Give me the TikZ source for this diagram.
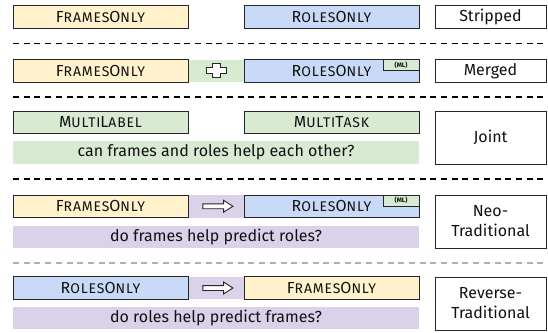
\documentclass[tikz,border=0pt]{standalone}
\usepackage{fontspec}
\setmainfont{Fira Sans}
\usetikzlibrary{shapes.arrows}
\definecolor{cyellow}{HTML}{FFF2CC}
\definecolor{cblue}{HTML}{C9DAF8}
\definecolor{cgreen}{HTML}{D9EAD3}
\definecolor{cpurple}{HTML}{D9D2E9}
\definecolor{cborder}{HTML}{262626}
\definecolor{ctext}{HTML}{111111}
\definecolor{cgraysep}{HTML}{B0B0B0}
\newcommand\mysc[1]{{\fontsize{14}{16}\selectfont #1}}
\newcommand\FramesOnly{F\mysc{RAMES}O\mysc{NLY}}
\newcommand\RolesOnly{R\mysc{OLES}O\mysc{NLY}}
\newcommand\MultiLabel{M\mysc{ULTI}L\mysc{ABEL}}
\newcommand\MultiTask{M\mysc{ULTI}T\mysc{ASK}}
\tikzset{
  base/.style={draw=cborder, line width=0.9pt, inner sep=0pt, text=ctext,
    font=\fontsize{16}{20}\selectfont},
  method/.style={base, minimum width=175pt, minimum height=22.5pt,
    font=\fontsize{16}{20}\selectfont\addfontfeature{LetterSpace=6}},
  framesbox/.style={method, fill=cyellow},
  rolesbox/.style={method, fill=cblue},
  jointbox/.style={method, fill=cgreen},
  settingbox/.style={base, fill=white, minimum width=111pt, align=center},
  band/.style={inner sep=0pt, minimum height=22.5pt, text=ctext,
    font=\fontsize{16}{20}\selectfont},
  sepline/.style={dash pattern=on 6pt off 4.7pt, line width=1.3pt, draw=black},
  badge/.style={draw=cborder, line width=0.8pt, fill=cgreen, minimum width=36pt,
    minimum height=11pt, inner sep=0pt, text=ctext,
    font=\bfseries\fontsize{6.5}{7}\selectfont},
  fatarrow/.style={single arrow, draw=cborder, fill=white, line width=0.9pt,
    inner sep=2pt, minimum height=30pt, single arrow head extend=3.5pt,
    single arrow tip angle=65},
  crossmark/.style={draw=cborder, fill=white, line width=0.9pt},
}
\begin{document}
\begin{tikzpicture}[x=1pt,y=-1pt]
\useasboundingbox (0,0) rectangle (548,332);
% ---------- Row 1: Stripped
\node[framesbox] (f1) at (100.5,17) {\FramesOnly};
\node[rolesbox] (r1) at (331.5,17) {\RolesOnly};
\node[settingbox, minimum height=22.5pt] (s1) at (490.5,17) {Stripped};
\draw[sepline] (13,43.5) -- (547,43.5);
% ---------- Row 2: Merged
\node[band, fill=cgreen, minimum width=56pt] (g2) at (216,70.75) {};
\node[framesbox] (f2) at (100.5,70.75) {\FramesOnly};
\node[rolesbox] (r2) at (331.5,70.75) {\RolesOnly};
\node[badge, anchor=north east] (m2) at (r2.north east) {(ML)};
\draw[crossmark, shift={(g2.center)}]
  (-4,-7) -- (4,-7) -- (4,-3) -- (10,-3) -- (10,3) -- (4,3) -- (4,7)
  -- (-4,7) -- (-4,3) -- (-10,3) -- (-10,-3) -- (-4,-3) -- cycle;
\node[settingbox, minimum height=22.5pt] (s2) at (490.5,70.75) {Merged};
\draw[sepline] (13,97) -- (547,97);
% ---------- Row 3: Joint
\node[jointbox] (ml3) at (100.5,122.5) {\MultiLabel};
\node[jointbox] (mt3) at (331.5,122.5) {\MultiTask};
\node[band, fill=cgreen, minimum width=406pt] (q3) at (216,152.5) {can frames and roles help each other?};
\node[settingbox, minimum height=53.5pt] (s3) at (490.5,137.75) {Joint};
\draw[sepline] (13,179) -- (547,179);
% ---------- Row 4: Neo-Traditional
\node[band, fill=cpurple, minimum width=56pt] (p4) at (216,206.25) {};
\node[framesbox] (f4) at (100.5,206.25) {\FramesOnly};
\node[rolesbox] (r4) at (331.5,206.25) {\RolesOnly};
\node[badge, anchor=north east] (m4) at (r4.north east) {(ML)};
\node[fatarrow] (a4) at (p4.center) {};
\node[band, fill=cpurple, minimum width=406pt] (q4) at (216,237) {do frames help predict roles?};
\node[settingbox, minimum height=53pt] (s4) at (490.5,221.5) {Neo-\\Traditional};
\draw[sepline, draw=cgraysep] (13,263) -- (547,263);
% ---------- Row 5: Reverse-Traditional
\node[band, fill=cpurple, minimum width=56pt] (p5) at (216,288) {};
\node[rolesbox] (r5) at (100.5,288) {\RolesOnly};
\node[framesbox] (f5) at (331.5,288) {\FramesOnly};
\node[fatarrow] (a5) at (p5.center) {};
\node[band, fill=cpurple, minimum width=406pt] (q5) at (216,318) {do roles help predict frames?};
\node[settingbox, minimum height=53pt] (s5) at (490.5,303.5) {Reverse-\\Traditional};
\end{tikzpicture}
\end{document}
